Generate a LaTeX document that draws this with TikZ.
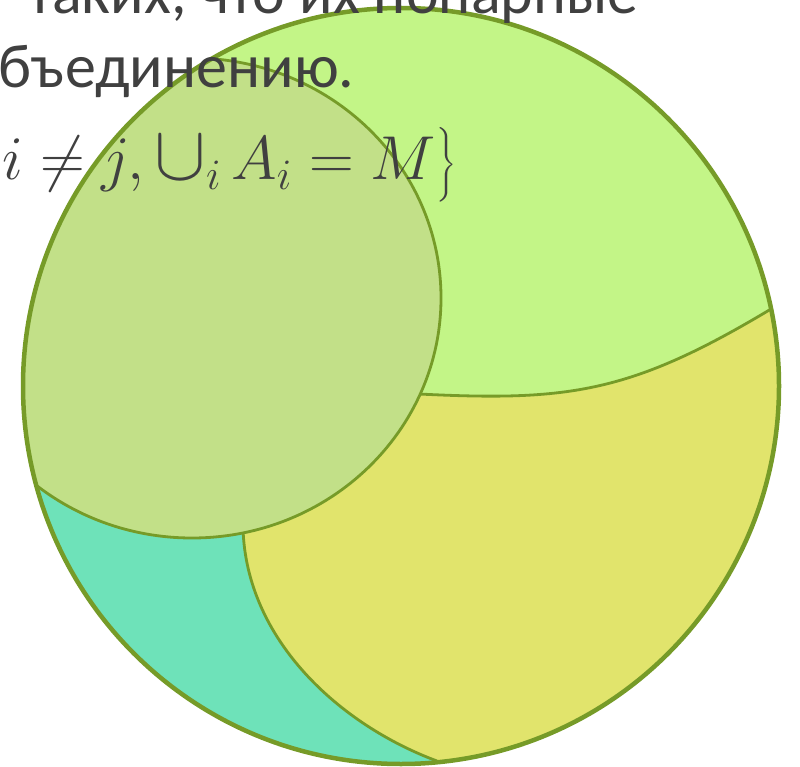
\RequirePackage{fix-cm}
\documentclass[tikz,border=0pt]{standalone}
\usepackage{amsmath}
\usepackage{fontspec}
\setmainfont{Carlito}
\definecolor{outlineGreen}{RGB}{118,155,40}
\definecolor{limeFill}{RGB}{195,245,135}
\definecolor{sandFill}{RGB}{225,228,108}
\definecolor{mintFill}{RGB}{110,226,185}
\definecolor{sageFill}{RGB}{194,224,136}
\definecolor{textGray}{RGB}{64,64,64}
\newcommand{\bigunion}{\mathop{\scalebox{1.25}{$\cup$}}\nolimits}
\tikzset{
  outerline/.style={draw=outlineGreen, line width=4.5pt},
  innerline/.style={draw=outlineGreen, line width=2.8pt},
  slidetext/.style={font=\fontsize{62}{74}\selectfont, text=textGray,
    inner sep=0pt, anchor=base west}
}
\begin{document}
\begin{tikzpicture}[x=1pt, y=-1pt]
  \useasboundingbox (0,0) rectangle (800,767);
  \clip (0,0) rectangle (800,767);

  % parts of the set M
  \begin{scope}
    \clip (401,386) circle (378);
    \fill[limeFill] (401,386) circle (378);
    \fill[sandFill] (419,394) .. controls (569,401.5) and (631,393) .. (771,309)
      -- (850,262) -- (850,830) -- (440,830) -- (437,761)
      .. controls (340,725) and (246,640) .. (243,531) -- cycle;
    \fill[mintFill] (243,531) .. controls (246,640) and (340,725) .. (437,761)
      -- (440,830) -- (-30,830) -- (-30,300) -- (192,298) -- cycle;
    \draw[innerline] (419,394) .. controls (569,401.5) and (631,393) .. (771,309) -- (830,274);
    \draw[innerline] (243,528) .. controls (246,640) and (340,725) .. (437,761);
    \filldraw[innerline, fill=sageFill] (192,298) ellipse [x radius=249, y radius=240];
  \end{scope}
  \draw[outerline] (401,386) circle (378);

  % slide text behind the picture
  \node[slidetext] (lineone) at (28,14) {таких, что их попарные};
  \node[slidetext] (linetwo) at (-34,88) {объединению.};
  \node[slidetext] (linethree) at (2,180) {$i \neq j, \bigunion_i A_i = M\bigr\}$};
\end{tikzpicture}
\end{document}
